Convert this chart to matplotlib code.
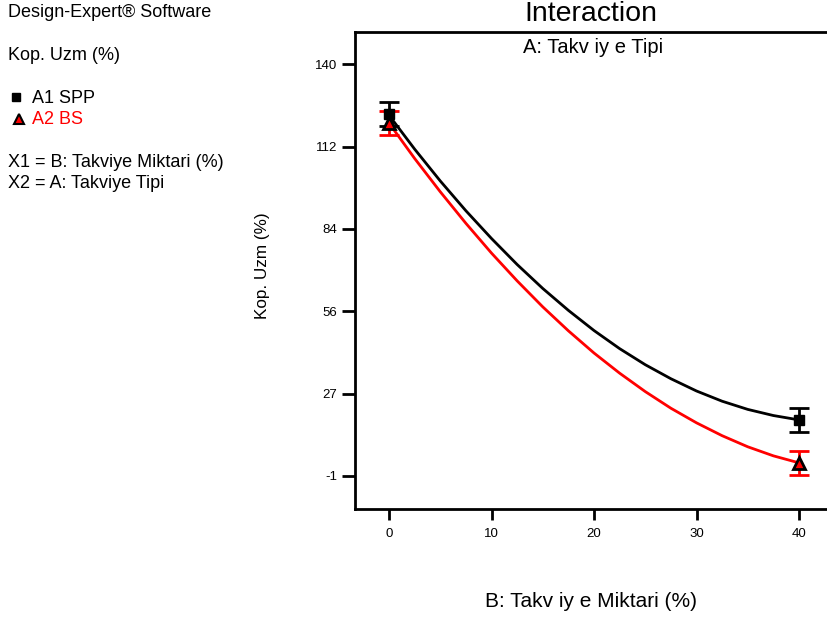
import numpy as np
import matplotlib
matplotlib.use("Agg")
import matplotlib.pyplot as plt
import matplotlib.lines as mlines

plt.rcParams['font.family'] = ['Liberation Sans', 'DejaVu Sans']

# --- datos ---
x_curva = [0, 2.5, 5, 7.5, 10, 12.5, 15, 17.5, 20, 22.5, 25, 27.5, 30, 32.5, 35, 37.5, 40]
spp_curva = [122.5, 110.9, 100.0, 89.8, 80.3, 71.4, 63.2, 55.7, 48.8, 42.6, 37.1, 32.3,
             28.1, 24.6, 21.8, 19.7, 18.2]
bs_curva = [119.8, 107.7, 96.3, 85.5, 75.3, 65.8, 56.9, 48.7, 41.1, 34.2, 27.9, 22.2,
            17.2, 12.8, 9.0, 5.9, 3.5]

x_puntos = [0, 40]
spp_puntos = [122.9, 18.2]
bs_puntos = [119.8, 3.5]
spp_err = [4.1, 4.2]
bs_err = [4.2, 4.2]

x_ticks = [0, 10, 20, 30, 40]
y_ticks = [-1, 27.2, 55.4, 83.6, 111.8, 140]
y_labels = ['-1', '27', '56', '84', '112', '140']

W, H = 828, 619
fig = plt.figure(figsize=(W / 100, H / 100), dpi=100)

def fx(px):
    return px / W

def fy(py):
    return 1 - py / H

ax = fig.add_axes([fx(355), fy(509), 1 - fx(355), fy(32) - fy(509)])

# barras de error
ax.errorbar(x_puntos, bs_puntos, yerr=bs_err, fmt='none', ecolor='red',
            elinewidth=2, capsize=7.2, capthick=2, zorder=2)
ax.errorbar(x_puntos, spp_puntos, yerr=spp_err, fmt='none', ecolor='black',
            elinewidth=2, capsize=7.2, capthick=2, zorder=2)

# curvas
ax.plot(x_curva, bs_curva, color='red', lw=2, zorder=3)
ax.plot(x_curva, spp_curva, color='black', lw=2, zorder=3)

# puntos
ax.plot(x_puntos, spp_puntos, 's', color='black', ms=7, zorder=4)
ax.plot(x_puntos, bs_puntos, '^', mfc='red', mec='black', mew=2, ms=9, zorder=4)

ax.set_xlim(-3.32, 42.83)
ax.set_ylim(-12.3, 151.0)
ax.set_xticks(x_ticks)
ax.set_xticklabels([str(t) for t in x_ticks])
ax.set_yticks(y_ticks)
ax.set_yticklabels(y_labels)

for s in ['left', 'top', 'bottom']:
    ax.spines[s].set_linewidth(2)
ax.spines['right'].set_visible(False)
ax.tick_params(axis='x', direction='out', length=8, width=2, pad=6, labelsize=9.5)
ax.tick_params(axis='y', direction='out', length=9.5, width=2, pad=3.5, labelsize=9.5)

# titulos
fig.text(fx(591), fy(21), 'Interaction', ha='center', va='baseline', fontsize=20.5)
fig.text(fx(593), fy(53), 'A: Takv iy e Tipi', ha='center', va='baseline', fontsize=14.5)
fig.text(fx(591), fy(607), 'B: Takv iy e Miktari (%)', ha='center', va='baseline', fontsize=15)
fig.text(fx(263), fy(266), 'Kop. Uzm (%)', ha='center', va='center', rotation=90, fontsize=12.3)

# textos de la izquierda
fs = 13
fig.text(fx(8), fy(17), 'Design-Expert® Software', ha='left', va='baseline', fontsize=fs)
fig.text(fx(8), fy(60), 'Kop. Uzm (%)', ha='left', va='baseline', fontsize=fs)
fig.text(fx(32), fy(103), 'A1 SPP', ha='left', va='baseline', fontsize=fs)
fig.text(fx(32), fy(124), 'A2 BS', ha='left', va='baseline', fontsize=fs, color='red')
fig.text(fx(8), fy(167), 'X1 = B: Takviye Miktari (%)', ha='left', va='baseline', fontsize=fs)
fig.text(fx(8), fy(188), 'X2 = A: Takviye Tipi', ha='left', va='baseline', fontsize=fs)

fig.add_artist(mlines.Line2D([fx(16)], [fy(97)], marker='s', color='black', ms=6,
                             transform=fig.transFigure))
fig.add_artist(mlines.Line2D([fx(19)], [fy(119)], marker='^', mfc='red', mec='black',
                             mew=1.5, ms=7, transform=fig.transFigure))

fig.savefig('out.png', dpi=100)
